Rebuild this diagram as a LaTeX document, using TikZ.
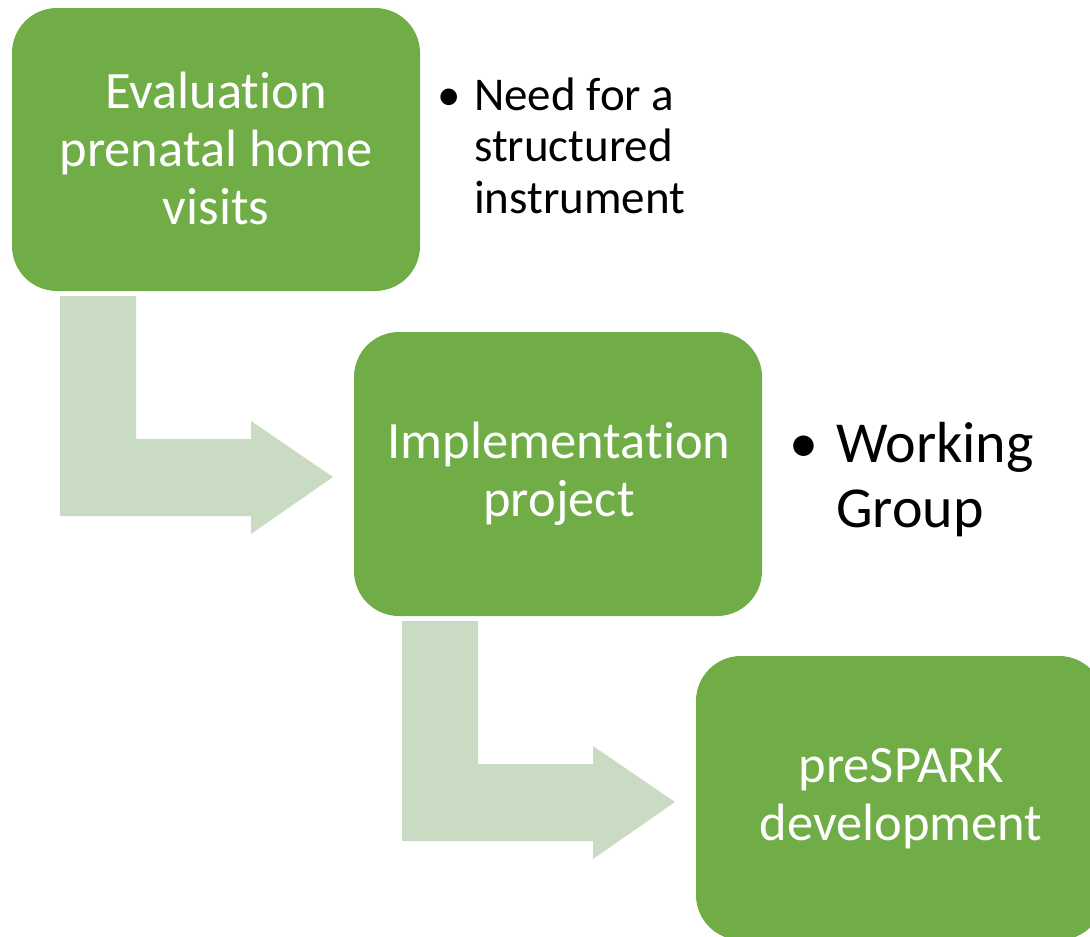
\documentclass[tikz,border=0pt]{standalone}
\usepackage{fontspec}
\setmainfont{Carlito}[Ligatures=NoCommon]
\definecolor{boxgreen}{HTML}{70AD47}
\definecolor{arrowgreen}{HTML}{C9DBC3}
\tikzset{
  greenbox/.style={fill=boxgreen, rounded corners=45pt},
  boxtext/.style={text=white, align=center, font=\fontsize{52.5}{58}\selectfont, inner sep=0pt},
  bentarrow/.style={fill=arrowgreen},
  bulletmark/.style={text=black, inner sep=0pt, anchor=base},
  bullettext/.style={text=black, align=left, inner sep=0pt, anchor=base west},
}
\begin{document}
\begin{tikzpicture}[x=1pt,y=-1pt]
\useasboundingbox (0,0) rectangle (1090,937);
\clip (0,0) rectangle (1090,937);
% bent arrows
\foreach \dx/\dy in {0/0, 342/325}{
  \begin{scope}[shift={(\dx,\dy)}]
    \fill[bentarrow] (60,296) -- (136,296) -- (136,439) -- (251,439) -- (251,421)
      -- (333,477) -- (251,534) -- (251,516) -- (60,516) -- cycle;
  \end{scope}
}
% boxes
\fill[greenbox] (12,8) rectangle (420,291);
\fill[greenbox] (354,332) rectangle (762,616);
\fill[greenbox] (696,656) rectangle (1104,940);
\node[boxtext] (b1) at (216,148) {Evaluation\\prenatal home\\visits};
\node[boxtext] (b2) at (559,474) {Implementation\\project};
\node[boxtext] (b3) at (901,799) {preSPARK\\development};
% bullets
\node[bulletmark, font=\fontsize{47}{51.5}\selectfont] (d1) at (449,110) {\textbullet};
\node[bullettext, font=\fontsize{47}{51.5}\selectfont] (t1) at (474,213) {Need for a\\structured\\instrument};
\node[bulletmark, font=\fontsize{58}{65}\selectfont] (d2) at (804,462) {\textbullet};
\node[bullettext, font=\fontsize{58}{65}\selectfont] (t2) at (836,527) {Working\\Group};
\end{tikzpicture}
\end{document}
